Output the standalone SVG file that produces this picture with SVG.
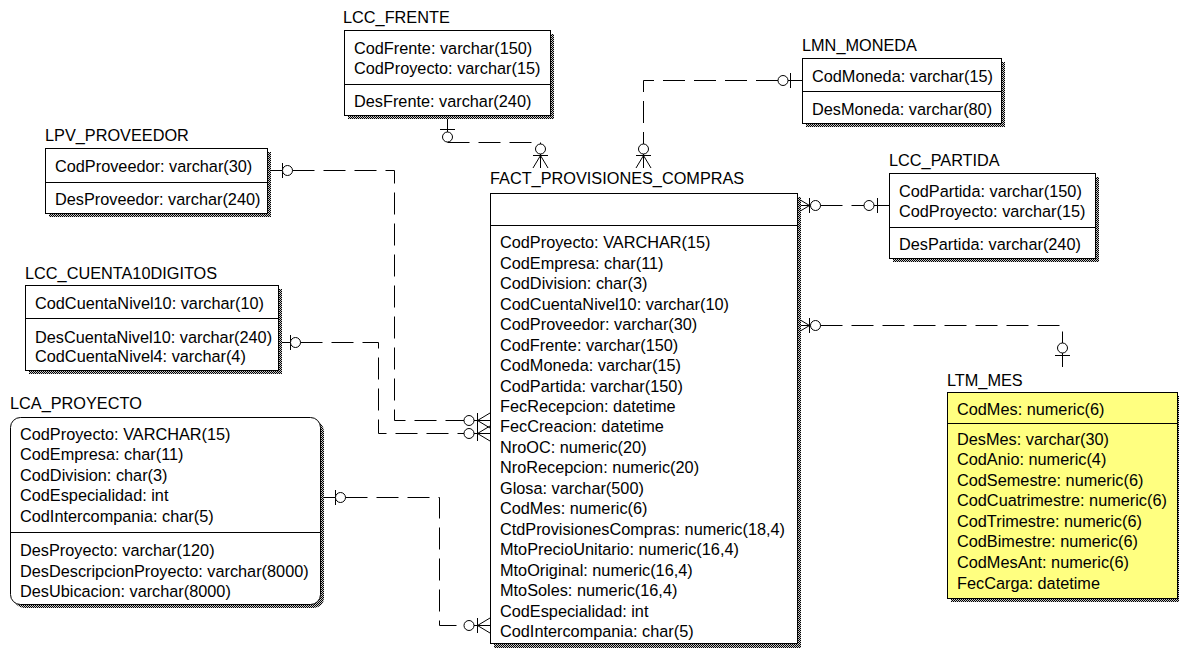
<svg xmlns="http://www.w3.org/2000/svg" width="1179" height="648" viewBox="0 0 1179 648">
<style>
.t{font-family:"Liberation Sans",Arial,sans-serif;font-size:16.3px;fill:#000}
.box{fill:#fff;stroke:#000;stroke-width:1}
.yel{fill:#ffff80;stroke:#000;stroke-width:1}
.sh{fill:url(#dither);stroke:none}
.sep{stroke:#000;stroke-width:1;fill:none}
.ln{fill:none;stroke:#000;stroke-width:1}
.dash{fill:none;stroke:#000;stroke-width:1;stroke-dasharray:22 9}
.c{fill:#fff;stroke:#000;stroke-width:1}
</style>
<defs>
<pattern id="dither" width="2" height="2" patternUnits="userSpaceOnUse">
<rect width="2" height="2" fill="#c8c8c8"/>
<rect width="1" height="1" fill="#000"/>
<rect x="1" y="1" width="1" height="1" fill="#000"/>
</pattern>
</defs>
<rect width="1179" height="648" fill="#fff"/>

<g id="connectors">
<!-- LCC_FRENTE -> FACT -->
<path class="ln" d="M447.5,116 V132 M440,129.5 H455"/>
<circle class="c" cx="447.5" cy="137" r="5"/>
<path class="dash" d="M447.5,142.5 H540.5 V144"/>
<circle class="c" cx="540.5" cy="149" r="5"/>
<path class="ln" d="M533,155.5 H548 M540.5,154 V168 M540.5,155.5 L533,168 M540.5,155.5 L548,168"/>
<!-- LMN_MONEDA -> FACT -->
<path class="ln" d="M802,80.5 H788 M790.5,73 V88"/>
<circle class="c" cx="783" cy="80.5" r="5"/>
<path class="dash" d="M778,80.5 H643.5 V144"/>
<circle class="c" cx="643.5" cy="149" r="5"/>
<path class="ln" d="M636,155.5 H651 M643.5,154 V168 M643.5,155.5 L636,168 M643.5,155.5 L651,168"/>
<!-- LPV_PROVEEDOR -> FACT -->
<path class="ln" d="M267,170.5 H283 M282.5,163 V178"/>
<circle class="c" cx="287.5" cy="170.5" r="5"/>
<path class="dash" d="M292.5,170.5 H394.5 V420.5 H464"/>
<circle class="c" cx="469" cy="420.5" r="5"/>
<path class="ln" d="M477.5,413 V428 M474,420.5 H490 M477.5,420.5 L490,413 M477.5,420.5 L490,428"/>
<!-- LCC_CUENTA10DIGITOS -> FACT -->
<path class="ln" d="M278,342.5 H291 M290.5,335 V350"/>
<circle class="c" cx="295.5" cy="342.5" r="5"/>
<path class="dash" d="M300.5,342.5 H378.5 V433.5 H464"/>
<circle class="c" cx="469" cy="433.5" r="5"/>
<path class="ln" d="M477.5,426 V441 M474,433.5 H490 M477.5,433.5 L490,426 M477.5,433.5 L490,441"/>
<!-- LCA_PROYECTO -> FACT -->
<path class="ln" d="M320,497.5 H336 M335.5,490 V505"/>
<circle class="c" cx="340.5" cy="497.5" r="5"/>
<path class="dash" d="M345.5,497.5 H439.5 V625.5 H464"/>
<circle class="c" cx="469" cy="625.5" r="5"/>
<path class="ln" d="M477.5,618 V633 M474,625.5 H490 M477.5,625.5 L490,618 M477.5,625.5 L490,633"/>
<!-- FACT -> LCC_PARTIDA -->
<path class="ln" d="M809.5,198 V213 M797,205.5 H811 M809.5,205.5 L797,198 M809.5,205.5 L797,213"/>
<circle class="c" cx="815.5" cy="205.5" r="5"/>
<path class="dash" d="M820.5,205.5 H864"/>
<circle class="c" cx="869" cy="205.5" r="5"/>
<path class="ln" d="M877.5,198 V213 M874,205.5 H889"/>
<!-- FACT -> LTM_MES -->
<path class="ln" d="M809.5,318 V333 M797,325.5 H811 M809.5,325.5 L797,318 M809.5,325.5 L797,333"/>
<circle class="c" cx="815.5" cy="325.5" r="5"/>
<path class="dash" d="M820.5,325.5 H1062.5 V343"/>
<circle class="c" cx="1062.5" cy="348" r="5"/>
<path class="ln" d="M1055,355.5 H1070 M1062.5,353 V367"/>
</g>

<g id="LCC_FRENTE">
<text class="t" x="343" y="23">LCC_FRENTE</text>
<rect class="sh" x="348" y="34" width="206" height="85"/>
<rect class="box" x="344.5" y="30.5" width="206" height="85"/>
<path class="sep" d="M344.5,84.5 H550.5"/>
<text class="t" x="354" y="53.5">CodFrente: varchar(150)</text>
<text class="t" x="354" y="74">CodProyecto: varchar(15)</text>
<text class="t" x="354" y="107">DesFrente: varchar(240)</text>
</g>

<g id="LMN_MONEDA">
<text class="t" x="802" y="51">LMN_MONEDA</text>
<rect class="sh" x="806" y="62" width="199" height="65"/>
<rect class="box" x="802.5" y="58.5" width="199" height="65"/>
<path class="sep" d="M802.5,91.5 H1001.5"/>
<text class="t" x="812" y="82">CodMoneda: varchar(15)</text>
<text class="t" x="812" y="115">DesMoneda: varchar(80)</text>
</g>

<g id="LPV_PROVEEDOR">
<text class="t" x="45" y="141">LPV_PROVEEDOR</text>
<rect class="sh" x="49" y="152" width="222" height="65"/>
<rect class="box" x="45.5" y="148.5" width="222" height="65"/>
<path class="sep" d="M45.5,182.5 H267.5"/>
<text class="t" x="55" y="172">CodProveedor: varchar(30)</text>
<text class="t" x="55" y="205">DesProveedor: varchar(240)</text>
</g>

<g id="LCC_CUENTA10DIGITOS">
<text class="t" x="25" y="279">LCC_CUENTA10DIGITOS</text>
<rect class="sh" x="29" y="289" width="253" height="85"/>
<rect class="box" x="25.5" y="285.5" width="253" height="85"/>
<path class="sep" d="M25.5,318.5 H278.5"/>
<text class="t" x="35" y="309">CodCuentaNivel10: varchar(10)</text>
<text class="t" x="35" y="343">DesCuentaNivel10: varchar(240)</text>
<text class="t" x="35" y="362">CodCuentaNivel4: varchar(4)</text>
</g>

<g id="LCA_PROYECTO">
<text class="t" x="10" y="409">LCA_PROYECTO</text>
<rect class="sh" x="14" y="421" width="310" height="187" rx="10"/>
<rect class="box" x="10.5" y="417.5" width="310" height="187" rx="10"/>
<path class="sep" d="M10.5,532.5 H320.5"/>
<text class="t" x="20" y="440">CodProyecto: VARCHAR(15)</text>
<text class="t" x="20" y="460">CodEmpresa: char(11)</text>
<text class="t" x="20" y="480.5">CodDivision: char(3)</text>
<text class="t" x="20" y="501">CodEspecialidad: int</text>
<text class="t" x="20" y="521.5">CodIntercompania: char(5)</text>
<text class="t" x="20" y="556">DesProyecto: varchar(120)</text>
<text class="t" x="20" y="576.5">DesDescripcionProyecto: varchar(8000)</text>
<text class="t" x="20" y="597">DesUbicacion: varchar(8000)</text>
</g>

<g id="FACT_PROVISIONES_COMPRAS">
<text class="t" x="490" y="184">FACT_PROVISIONES_COMPRAS</text>
<rect class="sh" x="494" y="197" width="307" height="451"/>
<rect class="box" x="490.5" y="193.5" width="307" height="450"/>
<path class="sep" d="M490.5,225.5 H797.5"/>
<text class="t" x="500" y="248">CodProyecto: VARCHAR(15)</text>
<text class="t" x="500" y="268.5">CodEmpresa: char(11)</text>
<text class="t" x="500" y="289">CodDivision: char(3)</text>
<text class="t" x="500" y="309.5">CodCuentaNivel10: varchar(10)</text>
<text class="t" x="500" y="330">CodProveedor: varchar(30)</text>
<text class="t" x="500" y="350.5">CodFrente: varchar(150)</text>
<text class="t" x="500" y="371">CodMoneda: varchar(15)</text>
<text class="t" x="500" y="391.5">CodPartida: varchar(150)</text>
<text class="t" x="500" y="412">FecRecepcion: datetime</text>
<text class="t" x="500" y="432">FecCreacion: datetime</text>
<text class="t" x="500" y="452.5">NroOC: numeric(20)</text>
<text class="t" x="500" y="473">NroRecepcion: numeric(20)</text>
<text class="t" x="500" y="493.5">Glosa: varchar(500)</text>
<text class="t" x="500" y="514">CodMes: numeric(6)</text>
<text class="t" x="500" y="534.5">CtdProvisionesCompras: numeric(18,4)</text>
<text class="t" x="500" y="555">MtoPrecioUnitario: numeric(16,4)</text>
<text class="t" x="500" y="575.5">MtoOriginal: numeric(16,4)</text>
<text class="t" x="500" y="596">MtoSoles: numeric(16,4)</text>
<text class="t" x="500" y="616.5">CodEspecialidad: int</text>
<text class="t" x="500" y="637">CodIntercompania: char(5)</text>
</g>

<g id="LCC_PARTIDA">
<text class="t" x="889" y="166">LCC_PARTIDA</text>
<rect class="sh" x="893" y="177" width="206" height="85"/>
<rect class="box" x="889.5" y="173.5" width="206" height="85"/>
<path class="sep" d="M889.5,227.5 H1095.5"/>
<text class="t" x="899" y="196.5">CodPartida: varchar(150)</text>
<text class="t" x="899" y="217">CodProyecto: varchar(15)</text>
<text class="t" x="899" y="250">DesPartida: varchar(240)</text>
</g>

<g id="LTM_MES">
<text class="t" x="947" y="386">LTM_MES</text>
<rect class="sh" x="951" y="396" width="231" height="206"/>
<rect class="yel" x="947.5" y="392.5" width="230" height="206"/>
<path class="sep" d="M947.5,423.5 H1177.5"/>
<text class="t" x="957" y="414.5">CodMes: numeric(6)</text>
<text class="t" x="957" y="444.5">DesMes: varchar(30)</text>
<text class="t" x="957" y="465">CodAnio: numeric(4)</text>
<text class="t" x="957" y="485.5">CodSemestre: numeric(6)</text>
<text class="t" x="957" y="506">CodCuatrimestre: numeric(6)</text>
<text class="t" x="957" y="526.5">CodTrimestre: numeric(6)</text>
<text class="t" x="957" y="547">CodBimestre: numeric(6)</text>
<text class="t" x="957" y="567.5">CodMesAnt: numeric(6)</text>
<text class="t" x="957" y="589">FecCarga: datetime</text>
</g>
</svg>
